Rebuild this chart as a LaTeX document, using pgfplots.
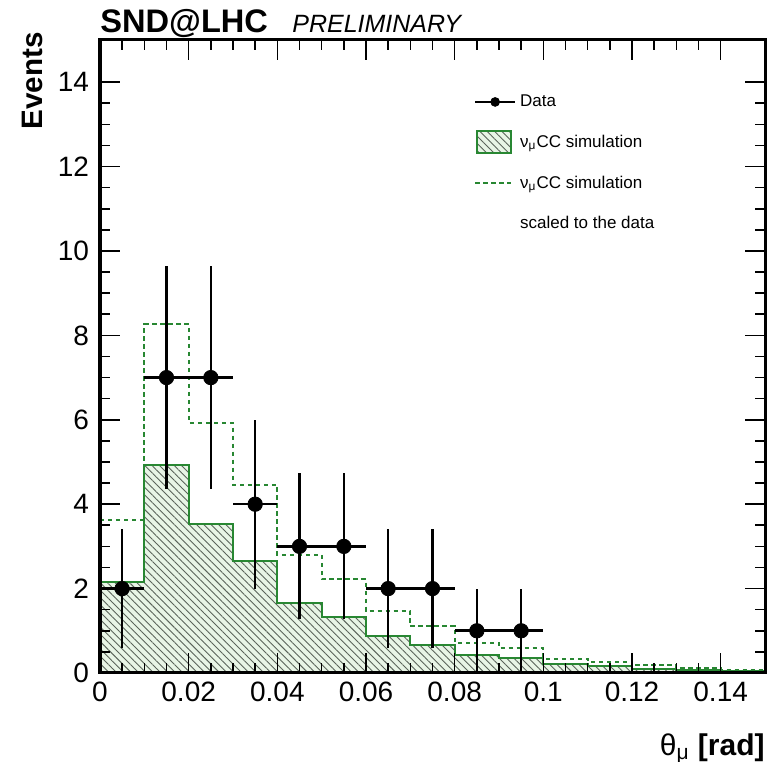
\documentclass[border=0pt]{standalone}
\usepackage{fontspec}
\setmainfont{Liberation Sans}
\usepackage{pgfplots}
\pgfplotsset{compat=1.18}
\usetikzlibrary{patterns.meta}

\definecolor{simgreen}{RGB}{40,135,50}
\definecolor{simfill}{RGB}{232,245,230}
\definecolor{hatchgray}{RGB}{90,100,90}

% bin contents, left edge of each 0.01 bin (last row closes the step)
\pgfplotstableread{
x     sim    scaled
0.00  2.16   3.62
0.01  4.92   8.26
0.02  3.53   5.93
0.03  2.66   4.46
0.04  1.65   2.80
0.05  1.32   2.22
0.06  0.87   1.47
0.07  0.66   1.11
0.08  0.43   0.72
0.09  0.35   0.59
0.10  0.21   0.34
0.11  0.16   0.27
0.12  0.10   0.18
0.13  0.06   0.11
0.14  0.04   0.07
0.15  0.04   0.07
}\simtable

\pgfplotstableread{
x      y   ex     ey
0.005  2   0.005  1.414
0.015  7   0.005  2.646
0.025  7   0.005  2.646
0.035  4   0.005  2.000
0.045  3   0.005  1.732
0.055  3   0.005  1.732
0.065  2   0.005  1.414
0.075  2   0.005  1.414
0.085  1   0.005  1.000
0.095  1   0.005  1.000
}\datatable

\begin{document}
\begin{tikzpicture}
\begin{axis}[
  scale only axis, width=332.5pt, height=316.5pt,
  xmin=0, xmax=0.15, ymin=0, ymax=15,
  axis on top, axis line style={line width=1.5pt},
  tick pos=both, xticklabel pos=lower, yticklabel pos=left,
  tick align=inside,
  xtick={0,0.02,...,0.14}, ytick={0,2,...,14},
  minor x tick num=3, minor y tick num=3,
  major tick length=10pt, minor tick length=5pt,
  every tick/.style={black, line width=0.8pt},
  /pgf/number format/assume math mode=true,
  x tick label style={/pgf/number format/fixed, /pgf/number format/precision=2},
  tick label style={font=\fontsize{14}{16}\selectfont},
  xticklabel shift=1pt, yticklabel shift=2pt,
  xlabel={\fontsize{15}{18}\selectfont θ\textsubscript{μ} \textbf{[rad]}},
  xlabel style={at={(axis description cs:1,-0.13)}, anchor=base east, inner sep=0pt},
  ylabel={\fontsize{14.8}{17}\selectfont\bfseries Events},
  ylabel style={at={(axis description cs:-0.101,1.013)}, anchor=east, inner sep=0pt},
  legend style={draw=none, fill=none, font=\fontsize{8.5}{10}\selectfont,
    at={(axis description cs:0.553,0.927)}, anchor=north west,
    row sep=8.6pt, cells={anchor=west}},
  legend cell align=left,
]
\coordinate (bl) at (rel axis cs:0,0);
\coordinate (tr) at (rel axis cs:1,1);
\coordinate (tl) at (rel axis cs:0,1);

\addplot[const plot, draw=simgreen, line width=1pt,
  preaction={fill=simfill},
  pattern={Lines[angle=-45,distance=2.6pt,line width=0.45pt]}, pattern color=hatchgray,
  forget plot]
  table[x=x, y=sim] {\simtable} \closedcycle;

\addplot[const plot, draw=simgreen, line width=1pt,
  dash pattern=on 2.2pt off 1.8pt, forget plot]
  table[x=x, y=scaled] {\simtable};

\addplot[only marks, mark=*, mark size=3.6pt, black, forget plot,
  error bars/.cd, x dir=both, x explicit, y dir=both, y explicit,
  error mark=none, error bar style={line width=1.3pt}]
  table[x=x, y=y, x error=ex, y error=ey] {\datatable};

% legend entries
\addlegendimage{legend image code/.code={
  \draw[line width=1pt] (0pt,0pt) -- (20pt,0pt);
  \fill (10pt,0pt) circle (2.2pt);}}
\addlegendentry{Data}
\addlegendimage{legend image code/.code={
  \draw[draw=simgreen, line width=1pt, preaction={fill=simfill},
    pattern={Lines[angle=-45,distance=2.6pt,line width=0.45pt]}, pattern color=hatchgray]
    (1pt,-5.5pt) rectangle (18pt,5.5pt);}}
\addlegendentry{ν\textsubscript{μ}CC simulation}
\addlegendimage{legend image code/.code={
  \draw[simgreen, line width=1pt, dash pattern=on 2.2pt off 1.8pt] (0pt,0pt) -- (18pt,0pt);}}
\addlegendentry{ν\textsubscript{μ}CC simulation}
\addlegendimage{empty legend}
\addlegendentry{scaled to the data}
\end{axis}
\node[anchor=base west, inner sep=0pt] at ([yshift=3.5pt]tl)
  {\fontsize{16.3}{18}\selectfont\bfseries SND@LHC};
\node[anchor=base west, inner sep=0pt] at ([xshift=96pt,yshift=3.5pt]tl)
  {\fontsize{12.5}{14}\selectfont\itshape PRELIMINARY};
\pgfresetboundingbox
\path ([xshift=-50pt,yshift=-44.5pt]bl) rectangle ([xshift=2.5pt,yshift=20pt]tr);
\end{tikzpicture}
\end{document}
